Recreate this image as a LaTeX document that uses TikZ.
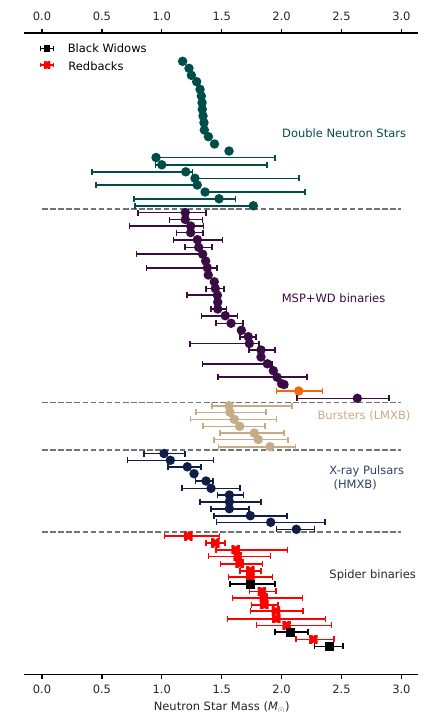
\documentclass[tikz,border=0pt]{standalone}
\usepackage{fontspec}
\setmainfont{DejaVu Sans}
\definecolor{dnscol}{RGB}{0,78,74}
\definecolor{mspcol}{RGB}{58,12,68}
\definecolor{lmxbcol}{RGB}{198,172,134}
\definecolor{hmxbcol}{RGB}{14,30,70}
\definecolor{orgcol}{RGB}{245,102,12}
\begin{document}
\begin{tikzpicture}[x=119.8pt, y=-1pt, font=\fontsize{11.5}{13}\selectfont,
      dot/.style={circle, inner sep=0pt, minimum size=9.5pt},
      sqr/.style={rectangle, fill=black, inner sep=0pt, minimum size=9pt},
      crs/.style={rectangle, inner sep=0pt, minimum size=8.5pt,
        path picture={\draw[red, line width=4.2pt] (path picture bounding box.south west) -- (path picture bounding box.north east)
          (path picture bounding box.north west) -- (path picture bounding box.south east);}},
      ebar/.style={line width=1.6pt},
      sep/.style={black!55, line width=1.6pt, dash pattern=on 5.5pt off 2.6pt},
      axl/.style={line width=1.7pt},
      lbl/.style={anchor=base west, inner sep=0pt}]
    \useasboundingbox (-0.3506,0) rectangle (3.2053,712);
    % axes
    \draw[axl] (-0.15,33) -- (3.139,33);
    \draw[axl] (-0.15,674.5) -- (3.139,674.5);
    \foreach \t [count=\k] in {0.0,0.5,1.0,1.5,2.0,2.5,3.0} {
      \draw[line width=1.2pt] (\t,33) -- (\t,29);
      \draw[line width=1.2pt] (\t,674.5) -- (\t,678.5);
      \node[anchor=base, inner sep=0pt, text=black!85] (tt\k) at (\t,20.7) {\t};
      \node[anchor=base, inner sep=0pt, text=black!85] (tb\k) at (\t,693) {\t};
    }
    \node[anchor=base, inner sep=0pt, text=black!85] (xlab) at (1.5,710.5) {Neutron Star Mass (\textit{M}$_\odot$)};
    % group separators
    \draw[sep] (0,208.8) -- (3,208.8);
    \draw[sep] (0,402.3) -- (3,402.3);
    \draw[sep] (0,449.7) -- (3,449.7);
    \draw[sep] (0,532) -- (3,532);
    % legend
    \draw[ebar] (-0.011,48.3) -- (0.095,48.3) (-0.011,46) -- (-0.011,50.6) (0.095,46) -- (0.095,50.6);
    \node[sqr, minimum size=6.5pt] (lgbw) at (0.042,48.3) {};
    \node[lbl] (lgbwt) at (0.214,52.5) {Black Widows};
    \draw[ebar, red] (-0.011,65) -- (0.095,65) (-0.011,62.7) -- (-0.011,67.3) (0.095,62.7) -- (0.095,67.3);
    \node[crs, minimum size=6.5pt] (lgrb) at (0.042,65) {};
    \node[lbl] (lgrbt) at (0.219,70) {Redbacks};
    % double neutron stars
    \foreach \y/\m [count=\i] in {61.3/1.174, 68.3/1.227, 75.3/1.247, 81.7/1.291, 89.3/1.319, 96/1.33, 102.7/1.336,
        109.3/1.338, 116/1.344, 122.7/1.352, 130/1.355, 136.7/1.389, 144/1.44, 151/1.561} {
      \node[dot, fill=dnscol] (dns\i) at (\m,\y) {};
    }
    \foreach \y/\m/\lo/\hi [count=\i] in {157.5/0.952/0.95/1.945, 164.8/1.0/0.946/1.876, 171.8/1.2/0.415/1.255,
        178.3/1.277/1.26/2.143, 185/1.296/0.453/1.31, 192/1.361/1.35/2.193, 198.8/1.478/0.768/1.614, 205.8/1.764/0.774/1.79} {
      \draw[ebar, dnscol] (\lo,\y) -- (\hi,\y) (\lo,\y-3) -- (\lo,\y+3) (\hi,\y-3) -- (\hi,\y+3);
      \node[dot, fill=dnscol] (dnse\i) at (\m,\y) {};
    }
    \node[lbl, text=dnscol] (dnslab) at (2.003,137) {Double Neutron Stars};
    % MSP + WD binaries
    \foreach \y/\m/\lo/\hi [count=\i] in {212.5/1.196/0.799/1.369, 219.5/1.196/1.063/1.341, 226/1.241/0.729/1.347,
        232.6/1.241/1.124/1.344, 239.7/1.297/1.096/1.505, 247.3/1.308/1.196/1.419, 254.2/1.341/0.790/1.36,
        261/1.366/1.366/1.366, 267.8/1.380/0.871/1.461, 275/1.388/1.388/1.388, 281.8/1.438/1.438/1.438,
        288.5/1.447/1.369/1.517, 295.2/1.464/1.208/1.48, 302.2/1.467/1.467/1.467, 309/1.467/1.41/1.54,
        315.7/1.53/1.333/1.632, 323.3/1.578/1.450/1.678, 330.3/1.664/1.664/1.664, 336.7/1.722/1.655/1.786,
        343.5/1.731/1.235/1.809, 350/1.828/1.728/1.945, 357/1.828/1.828/1.828, 363.8/1.881/1.341/1.92,
        370.7/1.931/1.931/1.931, 377.2/1.962/1.469/2.21, 383.7/2.0/2.0/2.0, 384.5/2.02/1.99/2.05, 398.3/2.632/2.126/2.894} {
      \draw[ebar, mspcol] (\lo,\y) -- (\hi,\y) (\lo,\y-3) -- (\lo,\y+3) (\hi,\y-3) -- (\hi,\y+3);
      \node[dot, fill=mspcol] (msp\i) at (\m,\y) {};
    }
    \draw[ebar, orgcol] (1.956,391) -- (2.34,391) (1.956,388) -- (1.956,394) (2.34,388) -- (2.34,394);
    \node[dot, fill=orgcol] (org) at (2.143,391) {};
    \node[lbl, text=mspcol] (msplab) at (2.0,302) {MSP+WD binaries};
    % bursters
    \foreach \y/\m/\lo/\hi [count=\i] in {405.7/1.561/1.419/2.087, 412.3/1.569/1.283/1.872, 419.3/1.605/1.241/1.956,
        426.3/1.65/1.344/1.861, 433/1.772/1.488/2.02, 439.5/1.805/1.436/2.053, 446.7/1.903/1.472/2.117} {
      \draw[ebar, lmxbcol] (\lo,\y) -- (\hi,\y) (\lo,\y-3) -- (\lo,\y+3) (\hi,\y-3) -- (\hi,\y+3);
      \node[dot, fill=lmxbcol] (lmxb\i) at (\m,\y) {};
    }
    \node[lbl, text=lmxbcol] (lmxblab) at (2.298,419) {Bursters (LMXB)};
    % x-ray pulsars
    \foreach \y/\m/\lo/\hi [count=\i] in {453.5/1.018/0.851/1.194, 460.3/1.071/0.715/1.433, 466.8/1.213/1.05/1.326,
        473.7/1.269/1.269/1.269, 481/1.369/1.28/1.425, 488.3/1.411/1.171/1.653, 495/1.564/1.464/1.681,
        501.7/1.564/1.319/1.826, 508.7/1.564/1.411/1.728, 515.7/1.739/1.436/2.043, 522.3/1.909/1.458/2.362,
        529.3/2.123/1.959/2.273} {
      \draw[ebar, hmxbcol] (\lo,\y) -- (\hi,\y) (\lo,\y-3) -- (\lo,\y+3) (\hi,\y-3) -- (\hi,\y+3);
      \node[dot, fill=hmxbcol] (hmxb\i) at (\m,\y) {};
    }
    \node[lbl, text=hmxbcol!85!white] (hmxblab) at (2.398,474) {X-ray Pulsars};
    \node[lbl, text=hmxbcol!85!white] (hmxblab2) at (2.432,488.3) {(HMXB)};
    % spider binaries
    \foreach \y/\m/\lo/\hi [count=\i] in {536/1.221/1.021/1.48, 543/1.447/1.369/1.53, 549.7/1.617/1.452/2.048,
        556.3/1.633/1.391/1.906, 563.7/1.65/1.489/1.839, 570.7/1.739/1.653/1.828, 577/1.739/1.558/1.923,
        591.3/1.836/1.731/1.951, 598/1.851/1.589/2.173, 604.7/1.856/1.75/1.972, 611/1.953/1.739/2.179,
        618.7/1.956/1.55/2.368, 625.3/2.042/1.789/2.415, 639.3/2.265/2.12/2.437} {
      \draw[ebar, red] (\lo,\y) -- (\hi,\y) (\lo,\y-3) -- (\lo,\y+3) (\hi,\y-3) -- (\hi,\y+3);
      \node[crs] (rb\i) at (\m,\y) {};
    }
    \foreach \y/\m/\lo/\hi [count=\i] in {584/1.739/1.567/1.943, 632/2.078/1.945/2.218, 646.3/2.396/2.276/2.513} {
      \draw[ebar] (\lo,\y) -- (\hi,\y) (\lo,\y-3) -- (\lo,\y+3) (\hi,\y-3) -- (\hi,\y+3);
      \node[sqr] (bw\i) at (\m,\y) {};
    }
    \node[lbl, text=black!85] (spdlab) at (2.398,578) {Spider binaries};
  \end{tikzpicture}
\end{document}
